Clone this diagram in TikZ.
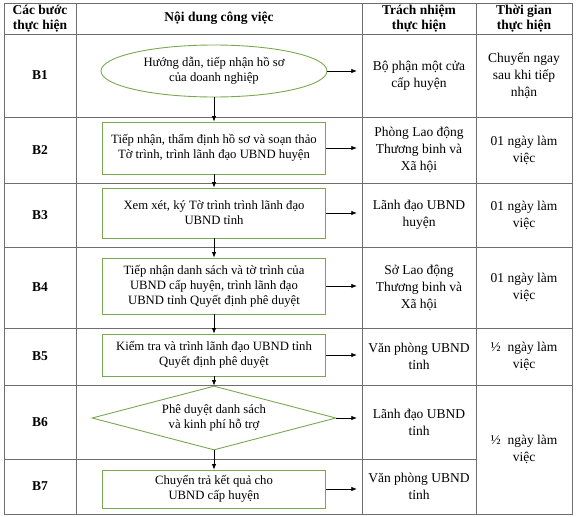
\documentclass[tikz,border=0pt]{standalone}
\usepackage{fontspec}
\setmainfont{Liberation Serif}
\usetikzlibrary{shapes.geometric,arrows.meta}
\definecolor{flowgreen}{RGB}{122,168,82}
\definecolor{gridgray}{RGB}{110,110,110}
\tikzset{
  gridline/.style={draw=gridgray, line width=0.9pt},
  flowbox/.style={draw=flowgreen, line width=0.9pt, fill=white, align=center, inner sep=0pt,
    minimum width=223pt, font=\fontsize{12.7}{15}\selectfont},
  flowarrow/.style={-{Latex[length=5.5pt,width=4.5pt]}, line width=0.7pt},
  cell/.style={align=center, inner sep=0pt, minimum width=114pt, font=\fontsize{13.5}{17}\selectfont},
  head/.style={align=center, font=\bfseries\fontsize{13.5}{15}\selectfont},
}
\begin{document}
\begin{tikzpicture}[x=1pt, y=-1pt]
    \fill[white] (0,0) rectangle (576,517);
    % table grid
    \draw[gridline] (4,3) rectangle (572,514);
    \foreach \yy in {34,117,183,247,328,385}
        \draw[gridline] (4,\yy) -- (572,\yy);
    \draw[gridline] (4,459) -- (476,459);
    \foreach \xx in {76,362,476}
        \draw[gridline] (\xx,3) -- (\xx,514);
    % header
    \node[head] (h1) at (40,18.5) {Các bước\\thực hiện};
    \node[head] (h2) at (219,18.5) {Nội dung công việc};
    \node[head] (h3) at (419,18.5) {Trách nhiệm\\thực hiện};
    \node[head] (h4) at (524,18.5) {Thời gian\\thực hiện};
    % steps
    \foreach \nn/\yy in {1/75.5,2/150,3/215,4/287.5,5/356.5,6/422,7/486.5}
        \node[head] (s\nn) at (40,\yy) {B\nn};
    % flow shapes
    \node[flowbox, ellipse, minimum width=226pt, minimum height=52pt] (f1) at (214,71)
        {Hướng dẫn, tiếp nhận hồ sơ\\của doanh nghiệp};
    \node[flowbox, minimum height=52pt] (f2) at (214,148)
        {Tiếp nhận, thẩm định hồ sơ và soạn thảo\\Tờ trình, trình lãnh đạo UBND huyện};
    \node[flowbox, minimum height=50pt] (f3) at (214,213)
        {Xem xét, ký Tờ trình trình lãnh đạo\\UBND tỉnh};
    \node[flowbox, minimum height=56pt] (f4) at (214,286)
        {Tiếp nhận danh sách và tờ trình của\\UBND cấp huyện, trình lãnh đạo\\UBND tỉnh Quyết định phê duyệt};
    \node[flowbox, minimum height=42pt] (f5) at (214,355)
        {Kiểm tra và trình lãnh đạo UBND tỉnh\\Quyết định phê duyệt};
    \node[flowbox, diamond, aspect=3.8, minimum width=244pt, minimum height=64pt] (f6) at (214,418)
        {Phê duyệt danh sách\\và kinh phí hỗ trợ};
    \node[flowbox, minimum height=38pt] (f7) at (214,489)
        {Chuyển trả kết quả cho\\UBND cấp huyện};
    % responsibility
    \node[cell] (r1) at (419,75.5) {Bộ phận một cửa\\cấp huyện};
    \node[cell] (r2) at (419,150) {Phòng Lao động\\Thương binh và\\Xã hội};
    \node[cell] (r3) at (419,215) {Lãnh đạo UBND\\huyện};
    \node[cell] (r4) at (419,287.5) {Sở Lao động\\Thương binh và\\Xã hội};
    \node[cell] (r5) at (419,356.5) {Văn phòng UBND\\tỉnh};
    \node[cell] (r6) at (419,422) {Lãnh đạo UBND\\tỉnh};
    \node[cell] (r7) at (419,486.5) {Văn phòng UBND\\tỉnh};
    % time
    \node[cell, minimum width=96pt] (t1) at (524,75.5) {Chuyển ngay\\sau khi tiếp\\nhận};
    \node[cell, minimum width=96pt] (t2) at (524,150) {01 ngày làm\\việc};
    \node[cell, minimum width=96pt] (t3) at (524,215) {01 ngày làm\\việc};
    \node[cell, minimum width=96pt] (t4) at (524,287.5) {01 ngày làm\\việc};
    \node[cell, minimum width=96pt] (t5) at (524,356.5) {½\ \ ngày làm\\việc};
    \node[cell, minimum width=96pt] (t6) at (524,449.5) {½\ \ ngày làm\\việc};
    % arrows
    \foreach \aa/\bb in {1/2,2/3,3/4,4/5,5/6,6/7}
        \draw[flowarrow] (f\aa.south) -- (f\bb.north);
    \foreach \nn in {1,...,7}
        \draw[flowarrow, shorten >=5pt] (f\nn.east) -- (f\nn.east -| r\nn.west);
\end{tikzpicture}
\end{document}
